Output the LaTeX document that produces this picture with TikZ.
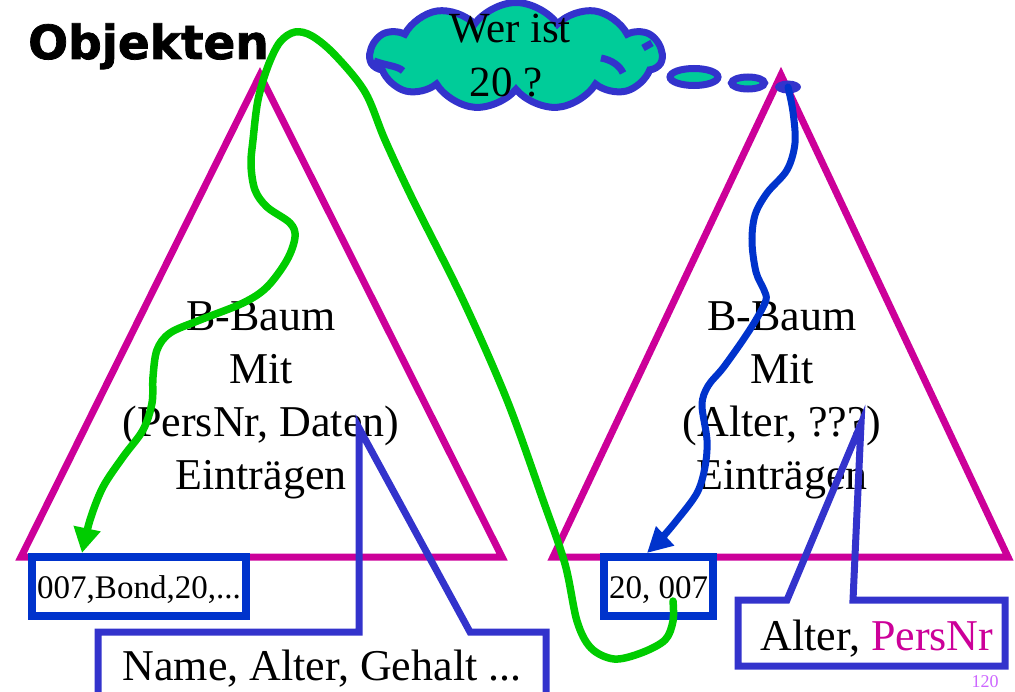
\documentclass[tikz,border=0pt]{standalone}
\usepackage{fontspec}
\setmainfont{Liberation Serif}
\newfontfamily\titlefont{DejaVu Sans}[BoldFeatures={FakeBold=1.6}]
\usetikzlibrary{shapes.symbols,shapes.geometric,arrows.meta}
\definecolor{trimag}{RGB}{204,0,153}
\definecolor{cblue}{RGB}{51,51,204}
\definecolor{ablue}{RGB}{0,51,204}
\definecolor{agreen}{RGB}{0,204,0}
\definecolor{cgreen}{RGB}{0,204,153}
\definecolor{pnum}{RGB}{204,102,255}
\begin{document}
\begin{tikzpicture}[x=1bp,y=-1bp,
  tree/.style={draw=trimag,line width=7bp,line join=miter},
  big/.style={font=\fontsize{44bp}{53bp}\selectfont,inner sep=0,anchor=base},
  recbox/.style={draw=ablue,line width=8.5bp,inner sep=0,outer sep=0,
     minimum height=59bp,text height=28bp,text depth=4bp,
     font=\fontsize{33bp}{40bp}\selectfont},
  callout/.style={draw=cblue,line width=7bp,line join=miter},
  bubble/.style={ellipse,draw=cblue,line width=7bp,fill=cgreen,inner sep=0},
  garrow/.style={draw=agreen,line width=7.5bp,line cap=round,line join=round,
     -{Triangle[length=25bp,width=26bp]}},
  barrow/.style={draw=ablue,line width=7bp,line cap=round,line join=round,
     -{Triangle[length=25bp,width=25bp]}}
]
\useasboundingbox (0,0) rectangle (1015,692);
\clip (0,0) rectangle (1015,692);

% title
\node[inner sep=0,anchor=base west,font=\titlefont\bfseries\fontsize{47bp}{50bp}\selectfont] (title) at (28,59) {Objekten};

% triangles (B-trees)
\draw[tree] (21,557) -- (260,75) -- (502,557) -- cycle;
\draw[tree] (553,557) -- (781,75) -- (1008,557) -- cycle;

% tree texts
\foreach \t [count=\i] in {B-Baum,Mit,{(PersNr, Daten)},Einträgen}
  \node[big] (lt\i) at (261,{330+53*(\i-1)}) {\t};
\foreach \t [count=\i] in {B-Baum,Mit,{(Alter, ???)},Einträgen}
  \node[big] (rt\i) at (782,{330+53*(\i-1)}) {\t};

% cloud and thought bubbles
\node[cloud,cloud puffs=11,cloud puff arc=110,cloud ignores aspect,
      minimum width=292bp,minimum height=107bp,draw=cblue,line width=7bp,
      fill=cgreen,inner sep=0] (cloud) at (516,56) {};
\draw[cblue,line width=7bp] (374,61) .. controls (388,66) and (398,66) .. (403,71);
\draw[cblue,line width=7bp] (601,58) .. controls (612,60) and (620,66) .. (623,73);
\draw[cblue,line width=7bp] (643,48) -- (652,43);
\node[big,font=\fontsize{43bp}{53bp}\selectfont] (q1) at (510,43) {Wer ist};
\node[big,font=\fontsize{43bp}{53bp}\selectfont] (q2) at (506,97) {20 ?};
\node[bubble,minimum width=48bp,minimum height=17bp] (bub1) at (694,77) {};
\node[bubble,minimum width=33bp,minimum height=12bp] (bub2) at (748,83) {};
\node[ellipse,fill=cblue,inner sep=0,minimum width=26bp,minimum height=13bp] (bub3) at (788,87) {};

% record boxes
\node[recbox,minimum width=214bp] (lbox) at (139,586.5) {007,Bond,20,...};
\node[recbox,minimum width=109bp] (rbox) at (658.5,586.5) {20, 007};

% callouts
\draw[callout] (98,632) -- (359,632) -- (359,428) -- (470,632) -- (546,632)
   -- (546,705) -- (98,705) -- cycle;
\node[big] (lcall) at (322,680) {Name, Alter, Gehalt ...};
\draw[callout] (738,600) -- (787,600) -- (861,424) -- (853,600) -- (1005,600)
   -- (1005,666) -- (738,666) -- cycle;
\node[big] (rcall) at (877,650) {Alter, \textcolor{trimag}{PersNr}};

% blue search path
\draw[barrow] plot[smooth,tension=0.55] coordinates {
  (bub3.center) (793,112) (795,143) (787,170) (767,193) (755,215) (752,242)
  (756,272) (764,290) (766,300) (757,318) (743,340) (723,368) (708,386)
  (702,405) (707,440) (705,467) (697,493) (677,520) (660,540)
  ([xshift=43bp,yshift=4bp]rbox.north west)};

% green lookup path
\draw[garrow] plot[smooth,tension=0.55] coordinates {
  ([xshift=14.5bp,yshift=-14.5bp]rbox.center) (673,621) (665,640) (641,653)
  (614,659) (591,648) (577,621) (565,564) (543,500) (507,400) (463,300)
  (413,200) (385,140) (365,92) (335,55) (312,36) (295,32) (280,42) (268,66)
  (258,100) (253,140) (251,165) (255,190) (267,207) (290,223) (295,237)
  (287,260) (267,287) (243,303) (200,320) (170,333) (157,350) (153,377)
  (152,403) (143,430) (123,457) (103,487) (90,520)
  ([xshift=50bp,yshift=4bp]lbox.north west)};

% page number
\node[inner sep=0,anchor=base,text=pnum,font=\fontsize{18bp}{20bp}\selectfont] (pg) at (985,687) {120};
\end{tikzpicture}
\end{document}
